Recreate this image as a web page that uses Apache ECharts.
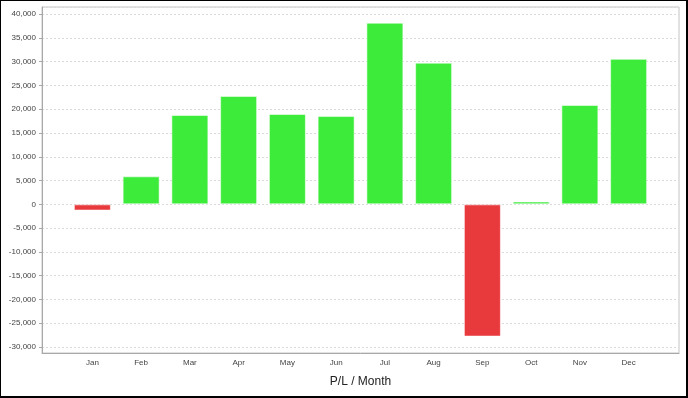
<!DOCTYPE html>
<html>
<head>
<meta charset="utf-8">
<script src="https://cdn.jsdelivr.net/npm/echarts@6/dist/echarts.min.js"></script>
<style>
  body { margin: 0; }
  #chart { width: 688px; height: 398px; }
  #frame { position: absolute; left: 0; top: 0; width: 688px; height: 398px; box-sizing: border-box; border: solid #000; border-width: 1px 2px 2px 1px; pointer-events: none; }
</style>
</head>
<body>
<div id="chart"></div>
<div id="frame"></div>
<script>
// months and P/L values
const months = ['Jan', 'Feb', 'Mar', 'Apr', 'May', 'Jun', 'Jul', 'Aug', 'Sep', 'Oct', 'Nov', 'Dec']
const profit = [-1300, 5900, 18800, 22800, 19000, 18600, 38200, 29800, -27800, 600, 20900, 30600]
const axisTitle = 'P/L / Month'

const yMin = -31250
const yMax = 41500
const font = 'Liberation Sans, Arial, sans-serif'

const chart = echarts.init(document.getElementById('chart'))

chart.setOption({
  animation: false,
  grid: [
    // outer frame: y axis, split lines, x axis line
    { left: 42, right: 9, top: 7, bottom: 45, show: true, borderColor: '#c4c4c4', borderWidth: 1 },
    // inner band for the bars (category margins)
    { left: 68, right: 35, top: 7, bottom: 45 },
  ],
  xAxis: [
    {
      type: 'category',
      gridIndex: 0,
      data: months,
      axisLine: { onZero: false, lineStyle: { color: '#a8a8a8' } },
      axisTick: { show: false },
      axisLabel: { show: false },
      name: axisTitle,
      nameLocation: 'middle',
      nameGap: 23,
      nameTextStyle: { fontFamily: font, fontSize: 12, color: '#222' },
    },
    {
      type: 'category',
      gridIndex: 1,
      data: months,
      axisLine: { show: false, onZero: false },
      axisTick: { alignWithLabel: true, length: 2, lineStyle: { color: '#a8a8a8' } },
      axisLabel: { fontFamily: font, fontSize: 8, color: '#444', margin: 6 },
    },
  ],
  yAxis: [
    {
      type: 'value',
      gridIndex: 0,
      min: yMin,
      max: yMax,
      splitNumber: 14,
      axisLine: { show: true, lineStyle: { color: '#a8a8a8' } },
      axisTick: { show: true, length: 3, lineStyle: { color: '#a8a8a8' } },
      axisLabel: {
        fontFamily: font,
        fontSize: 8,
        color: '#444',
        margin: 6,
        showMinLabel: false,
        showMaxLabel: false,
        formatter: (v) => v.toLocaleString('en-US'),
      },
      splitLine: { lineStyle: { color: '#dadada', type: [2, 2] } },
    },
    {
      type: 'value',
      gridIndex: 1,
      min: yMin,
      max: yMax,
      splitNumber: 14,
      show: false,
      splitLine: { show: false },
    },
  ],
  series: [
    {
      type: 'bar',
      xAxisIndex: 1,
      yAxisIndex: 1,
      barWidth: 37,
      data: profit.map((v) => ({
        value: v,
        itemStyle: {
          color: v >= 0 ? '#3deb3a' : '#e8393d',
          borderColor: 'rgba(255,255,255,0.55)',
          borderWidth: 1,
        },
      })),
    },
  ],
})
</script>
</body>
</html>
